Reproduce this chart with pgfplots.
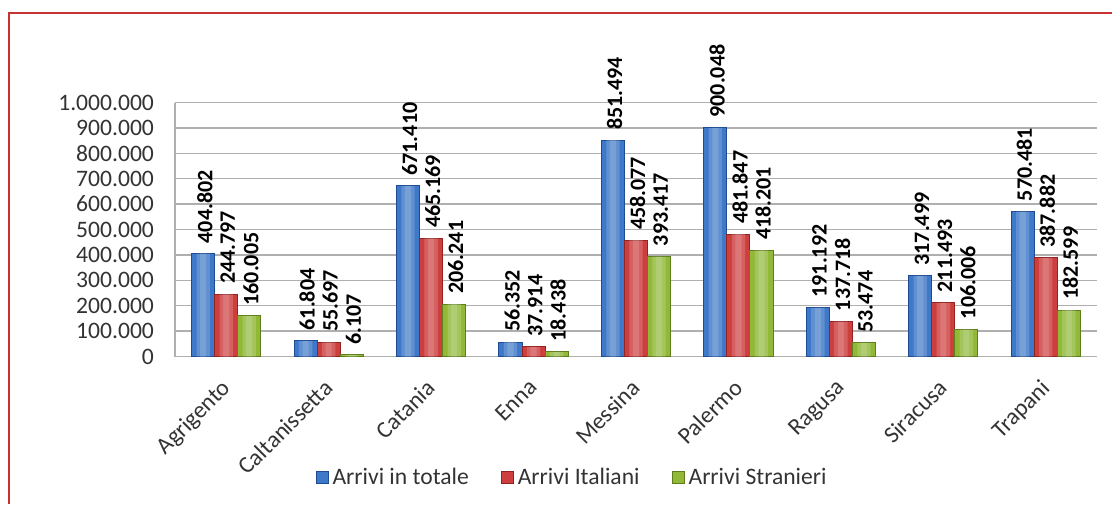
\documentclass[border=0pt]{standalone}
\usepackage{fontspec}
\setmainfont{Carlito}
\usepackage{pgfplots}
\pgfplotsset{compat=1.18}
\definecolor{bD}{RGB}{30,75,145}
\definecolor{bM}{RGB}{62,120,200}
\definecolor{rD}{RGB}{145,35,35}
\definecolor{rM}{RGB}{205,62,62}
\definecolor{gD}{RGB}{95,125,28}
\definecolor{gM}{RGB}{145,185,55}
\definecolor{borderc}{RGB}{200,50,50}
\definecolor{gridc}{RGB}{175,175,175}
\pgfplotstableread{
x tot ita str
0 404802 244797 160005
1 61804 55697 6107
2 671410 465169 206241
3 56352 37914 18438
4 851494 458077 393417
5 900048 481847 418201
6 191192 137718 53474
7 317499 211493 106006
8 570481 387882 182599
}\datatab
\pgfplotsset{
  hl/.style={forget plot, bar width=0.13, fill=white, fill opacity=0.18, draw=none},
  hl2/.style={forget plot, bar width=0.06, fill=white, fill opacity=0.15, draw=none},
  lbl/.style={nodes near coords,
    every node near coord/.append style={xshift=0.8pt, rotate=90, anchor=west, font=\bfseries\fontsize{11}{12}\selectfont, text=black, inner xsep=5pt, inner ysep=0.5pt, fill opacity=1, text opacity=1}},
}
\begin{document}
\begin{tikzpicture}
\path[use as bounding box] (0,0) rectangle (556pt,252pt);
\draw[borderc, line width=1pt] (4.5pt,0) -- (4.5pt,245.25pt) -- (556pt,245.25pt);
\begin{axis}[
  at={(87.5pt,73.75pt)}, anchor=south west,
  scale only axis, width=461pt, height=127pt,
  ybar, bar width=0.225,
  xmin=-0.5, xmax=8.5, ymin=0, ymax=1000000,
  enlargelimits=false, clip=false,
  xtick={0,1,2,3,4,5,6,7,8},
  xticklabels={Agrigento,Caltanissetta,Catania,Enna,Messina,Palermo,Ragusa,Siracusa,Trapani},
  ytick={0,100000,200000,300000,400000,500000,600000,700000,800000,900000,1000000},
  scaled y ticks=false,
  /pgf/number format/fixed,
  /pgf/number format/precision=0,
  /pgf/number format/1000 sep={.},
  /pgf/number format/assume math mode=true,
  axis x line*=bottom, axis y line*=left,
  axis line style={-, draw=gridc, line width=0.7pt},
  major tick length=0pt,
  ymajorgrids, grid style={gridc, line width=0.7pt},
  tick label style={font=\fontsize{11.8}{13}\selectfont, text=black!80},
  yticklabel style={xshift=-7pt},
  xticklabel style={xshift=-3pt, yshift=-10.5pt, rotate=45, anchor=north east, inner sep=0pt},
  legend image code/.code={\draw[#1] (0pt,-3pt) rectangle (6pt,3pt);},
  legend style={at={(0.4317,-0.478)}, anchor=center, draw=none, fill=none,
    legend columns=3, font=\fontsize{11.8}{13}\selectfont, text=black!80,
    /tikz/every even column/.append style={column sep=14pt}},
  legend cell align=left,
]
\addplot[bar shift=-0.225, draw=bD, line width=0.5pt, fill=bM, lbl] table[x=x, y=tot] {\datatab};
\addplot[bar shift=0, draw=rD, line width=0.5pt, fill=rM, lbl] table[x=x, y=ita] {\datatab};
\addplot[bar shift=0.225, draw=gD, line width=0.5pt, fill=gM, lbl] table[x=x, y=str] {\datatab};
\addplot[bar shift=-0.225, hl] table[x=x, y=tot] {\datatab};
\addplot[bar shift=0, hl] table[x=x, y=ita] {\datatab};
\addplot[bar shift=0.225, hl] table[x=x, y=str] {\datatab};
\addplot[bar shift=-0.225, hl2] table[x=x, y=tot] {\datatab};
\addplot[bar shift=0, hl2] table[x=x, y=ita] {\datatab};
\addplot[bar shift=0.225, hl2] table[x=x, y=str] {\datatab};
\legend{Arrivi in totale, Arrivi Italiani, Arrivi Stranieri}
\end{axis}
\end{tikzpicture}
\end{document}
